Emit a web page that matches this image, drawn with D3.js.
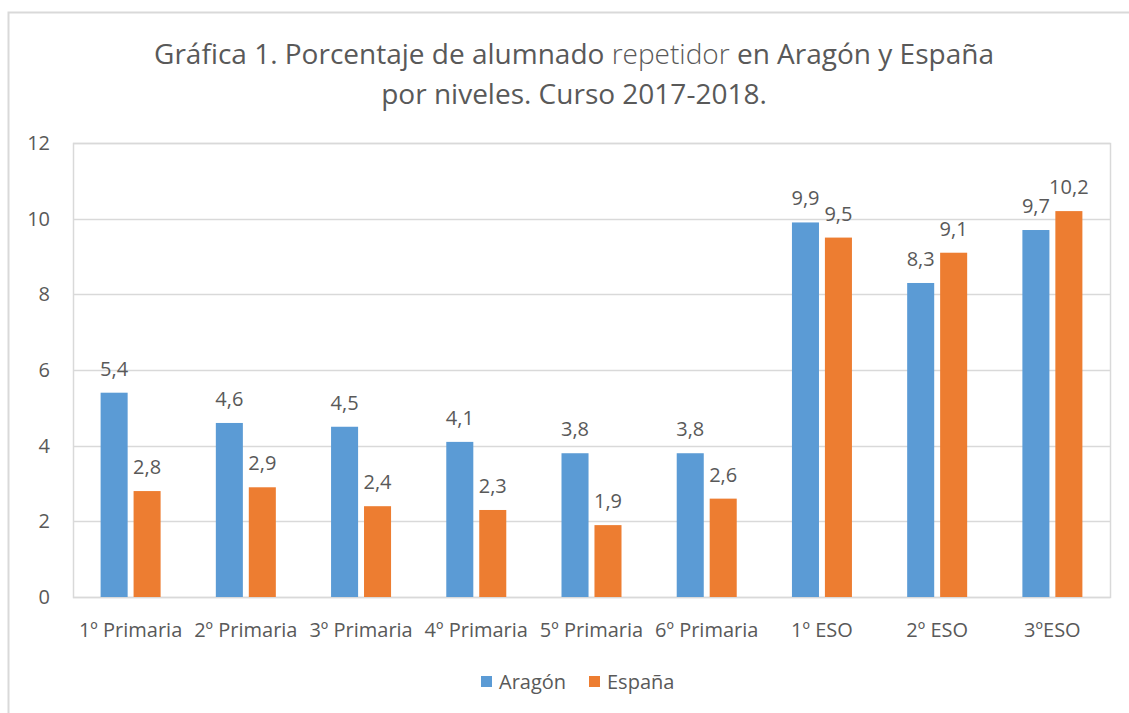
<!DOCTYPE html>
<html>
<head>
<meta charset="utf-8">
<title>Alumnado repetidor</title>
<script src="https://d3js.org/d3.v7.min.js"></script>
<style>
  body { margin: 0; background: #fff; }
  text { font-family: "Open Sans", sans-serif; fill: #595959; }
</style>
</head>
<body>
<script>
var categories = ["1º Primaria", "2º Primaria", "3º Primaria", "4º Primaria", "5º Primaria", "6º Primaria", "1º ESO", "2º ESO", "3ºESO"];
var series = ["Aragón", "España"];
var aragon = [5.4, 4.6, 4.5, 4.1, 3.8, 3.8, 9.9, 8.3, 9.7];
var espana = [2.8, 2.9, 2.4, 2.3, 1.9, 2.6, 9.5, 9.1, 10.2];
var yTicks = [0, 2, 4, 6, 8, 10, 12];
var colors = ["#5b9bd5", "#ed7d31"];

var width = 1129, height = 713;
var margin = {left: 73, right: 19, top: 143, bottom: 116};

var svg = d3.select("body").append("svg")
    .attr("width", width)
    .attr("height", height);

// outer chart frame
svg.append("rect")
    .attr("x", 8.5).attr("y", 12.5)
    .attr("width", 1140).attr("height", 720)
    .attr("fill", "none").attr("stroke", "#d9d9d9").attr("stroke-width", 2);

var x = d3.scaleBand()
    .domain(categories)
    .range([margin.left, width - margin.right]);

var xs = d3.scaleBand()
    .domain(series)
    .range([0, 60])
    .paddingInner(0.18);

var y = d3.scaleLinear()
    .domain([0, 12])
    .range([height - margin.bottom, margin.top]);

// gridlines
svg.append("g")
    .selectAll("line")
    .data(yTicks)
    .enter().append("line")
        .attr("x1", margin.left).attr("x2", width - margin.right)
        .attr("y1", function(d) { return Math.round(y(d)) + 0.5; })
        .attr("y2", function(d) { return Math.round(y(d)) + 0.5; })
        .attr("stroke", "#d9d9d9").attr("stroke-width", 1.5);

// plot area border
svg.append("rect")
    .attr("x", margin.left + 0.5).attr("y", y(12) + 0.5)
    .attr("width", width - margin.right - margin.left).attr("height", y(0) - y(12))
    .attr("fill", "none").attr("stroke", "#d9d9d9").attr("stroke-width", 1.5);

// y tick labels
svg.append("g")
    .selectAll("text")
    .data(yTicks)
    .enter().append("text")
        .attr("x", 50)
        .attr("y", function(d) { return y(d); })
        .attr("dy", "0.35em")
        .attr("text-anchor", "end")
        .style("font-size", "20px")
        .text(function(d) { return d; });

// x tick labels
svg.append("g")
    .selectAll("text")
    .data(categories)
    .enter().append("text")
        .attr("x", function(d) { return x(d) + x.bandwidth() / 2; })
        .attr("y", 637)
        .attr("text-anchor", "middle")
        .style("font-size", "20px")
        .text(function(d) { return d; });

var rows = categories.map(function(c, i) {
    return {cat: c, values: [
        {s: series[0], v: aragon[i], c: colors[0]},
        {s: series[1], v: espana[i], c: colors[1]}
    ]};
});

var groups = svg.append("g")
    .selectAll("g")
    .data(rows)
    .enter().append("g")
        .attr("transform", function(d) { return "translate(" + (x(d.cat) + (x.bandwidth() - 60) / 2) + ",0)"; });

groups.selectAll("rect")
    .data(function(d) { return d.values; })
    .enter().append("rect")
        .attr("x", function(d) { return xs(d.s); })
        .attr("y", function(d) { return y(d.v); })
        .attr("width", xs.bandwidth())
        .attr("height", function(d) { return y(0) - y(d.v); })
        .attr("fill", function(d) { return d.c; });

groups.selectAll("text")
    .data(function(d) { return d.values; })
    .enter().append("text")
        .attr("x", function(d) { return xs(d.s) + xs.bandwidth() / 2; })
        .attr("y", function(d) { return y(d.v) - 17; })
        .attr("text-anchor", "middle")
        .style("font-size", "20px")
        .text(function(d) { return String(d.v.toFixed(1)).replace(".", ","); });

// title
var title = svg.append("text")
    .attr("text-anchor", "middle")
    .style("font-size", "28px");
var l1 = title.append("tspan").attr("x", 574).attr("y", 64);
l1.append("tspan").text("Gráfica 1. Porcentaje de alumnado ");
l1.append("tspan").style("font-weight", "300").text("repetidor");
l1.append("tspan").text(" en Aragón y España");
title.append("tspan").attr("x", 574).attr("y", 104).text("por niveles. Curso 2017-2018.");

// legend
var legend = svg.append("g");
var lx = [481, 589];
series.forEach(function(s, i) {
    legend.append("rect")
        .attr("x", lx[i]).attr("y", 676)
        .attr("width", 11).attr("height", 11)
        .attr("fill", colors[i]);
    legend.append("text")
        .attr("x", lx[i] + 18).attr("y", 682)
        .attr("dy", "0.35em")
        .style("font-size", "20px")
        .text(s);
});
</script>
</body>
</html>
